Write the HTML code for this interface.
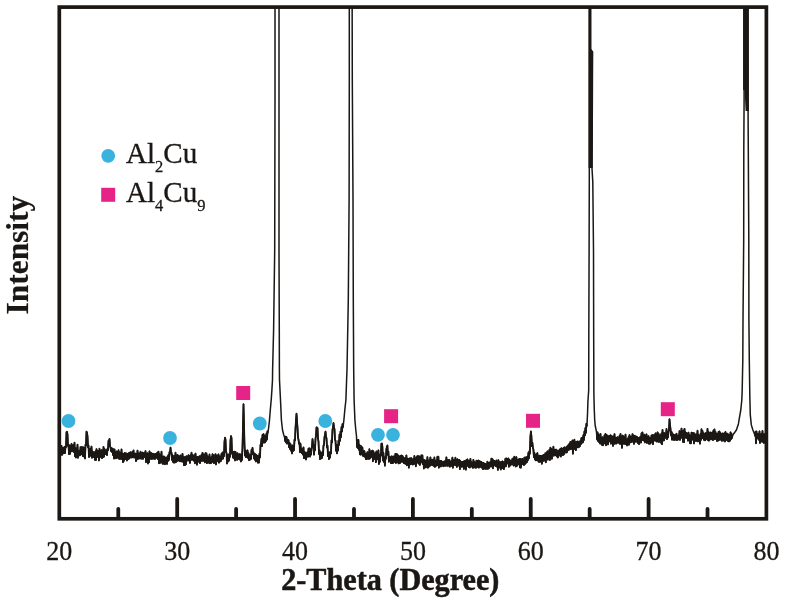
<!DOCTYPE html>
<html><head><meta charset="utf-8"><style>
html,body{margin:0;padding:0;background:#fff;}
body{width:786px;height:603px;overflow:hidden;}
svg{display:block;filter:blur(0.45px);}
text{font-family:"Liberation Serif",serif;fill:#1a1714;}
</style></head><body>
<svg width="786" height="603" viewBox="0 0 786 603">
<rect width="786" height="603" fill="#fff"/>
<defs><clipPath id="c"><rect x="59" y="7" width="708" height="512"/></clipPath></defs>
<path d="M61.00,452.72 L61.50,445.79 L62.00,454.88 L62.50,448.18 L63.00,453.51 L63.50,447.92 L64.00,453.04 L64.50,446.89 L65.00,453.07 L65.50,446.52 L66.00,447.20 L66.50,432.24 L67.00,431.80 L67.50,434.30 L68.00,446.08 L68.50,445.09 L69.00,454.17 L69.50,445.29 L70.00,453.90 L70.50,445.91 L71.00,451.06 L71.50,443.99 L72.00,451.44 L72.50,445.73 L73.00,449.87 L73.50,444.83 L74.00,452.08 L74.50,442.73 L75.00,456.24 L75.50,448.22 L76.00,457.54 L76.50,448.38 L77.00,454.74 L77.50,444.71 L78.00,457.79 L78.50,450.67 L79.00,455.24 L79.50,451.39 L80.00,455.28 L80.50,447.17 L81.00,454.19 L81.50,447.10 L82.00,454.47 L82.50,447.27 L83.00,456.19 L83.50,447.52 L84.00,456.48 L84.50,447.78 L85.00,458.43 L85.50,444.86 L86.00,445.39 L86.50,431.57 L87.00,432.72 L87.50,436.05 L88.00,447.14 L88.50,445.46 L89.00,457.07 L89.50,449.33 L90.00,454.66 L90.50,448.67 L91.00,455.93 L91.50,446.54 L92.00,457.80 L92.50,451.35 L93.00,456.97 L93.50,452.37 L94.00,457.01 L94.50,452.60 L95.00,459.90 L95.50,451.36 L96.00,460.02 L96.50,449.10 L97.00,457.17 L97.50,450.92 L98.00,456.67 L98.50,450.97 L99.00,460.39 L99.50,448.71 L100.00,457.30 L100.50,451.19 L101.00,456.58 L101.50,450.03 L102.00,458.18 L102.50,452.48 L103.00,457.22 L103.50,446.94 L104.00,456.65 L104.50,448.97 L105.00,454.05 L105.50,450.62 L106.00,454.06 L106.50,450.08 L107.00,455.08 L107.50,448.82 L108.00,450.22 L108.50,440.80 L109.00,441.16 L109.50,438.95 L110.00,446.27 L110.50,447.41 L111.00,451.01 L111.50,448.18 L112.00,452.07 L112.50,448.63 L113.00,455.06 L113.50,449.52 L114.00,458.51 L114.50,449.38 L115.00,458.23 L115.50,453.33 L116.00,458.27 L116.50,451.42 L117.00,457.82 L117.50,451.87 L118.00,457.48 L118.50,450.24 L119.00,458.64 L119.50,452.34 L120.00,459.02 L120.50,453.60 L121.00,458.71 L121.50,449.50 L122.00,459.06 L122.50,453.68 L123.00,462.21 L123.50,454.24 L124.00,460.76 L124.50,453.03 L125.00,458.64 L125.50,453.14 L126.00,459.20 L126.50,453.58 L127.00,460.51 L127.50,454.05 L128.00,459.29 L128.50,453.34 L129.00,458.58 L129.50,452.79 L130.00,457.31 L130.50,452.16 L131.00,457.69 L131.50,452.62 L132.00,456.79 L132.50,452.21 L133.00,457.45 L133.50,450.39 L134.00,457.24 L134.50,453.70 L135.00,457.60 L135.50,453.57 L136.00,461.09 L136.50,453.81 L137.00,459.38 L137.50,450.62 L138.00,458.72 L138.50,453.38 L139.00,458.56 L139.50,453.62 L140.00,457.07 L140.50,451.73 L141.00,458.56 L141.50,453.16 L142.00,458.60 L142.50,452.54 L143.00,458.83 L143.50,453.03 L144.00,456.78 L144.50,453.21 L145.00,457.15 L145.50,451.10 L146.00,462.17 L146.50,454.36 L147.00,458.95 L147.50,453.20 L148.00,463.49 L148.50,455.13 L149.00,462.25 L149.50,451.34 L150.00,457.99 L150.50,453.18 L151.00,459.03 L151.50,453.03 L152.00,458.83 L152.50,453.82 L153.00,458.51 L153.50,453.98 L154.00,458.58 L154.50,454.49 L155.00,458.99 L155.50,454.02 L156.00,457.99 L156.50,453.53 L157.00,457.31 L157.50,452.59 L158.00,459.18 L158.50,451.65 L159.00,463.28 L159.50,454.34 L160.00,463.05 L160.50,455.17 L161.00,460.67 L161.50,451.75 L162.00,462.73 L162.50,456.77 L163.00,464.03 L163.50,456.42 L164.00,462.10 L164.50,456.76 L165.00,464.27 L165.50,457.88 L166.00,462.75 L166.50,457.84 L167.00,463.99 L167.50,456.44 L168.00,461.02 L168.50,455.00 L169.00,459.93 L169.50,452.07 L170.00,453.54 L170.50,447.58 L171.00,452.94 L171.50,452.64 L172.00,459.84 L172.50,455.22 L173.00,461.85 L173.50,456.44 L174.00,462.65 L174.50,455.83 L175.00,462.47 L175.50,452.68 L176.00,462.05 L176.50,456.70 L177.00,460.89 L177.50,454.85 L178.00,460.76 L178.50,455.90 L179.00,460.19 L179.50,456.72 L180.00,461.34 L180.50,455.44 L181.00,460.49 L181.50,457.06 L182.00,461.55 L182.50,453.81 L183.00,461.49 L183.50,457.34 L184.00,465.09 L184.50,457.11 L185.00,465.12 L185.50,457.32 L186.00,464.25 L186.50,456.24 L187.00,460.54 L187.50,456.62 L188.00,460.22 L188.50,455.22 L189.00,460.79 L189.50,456.25 L190.00,462.94 L190.50,455.30 L191.00,459.85 L191.50,452.73 L192.00,459.67 L192.50,454.79 L193.00,459.79 L193.50,456.08 L194.00,460.84 L194.50,455.19 L195.00,463.23 L195.50,453.61 L196.00,461.86 L196.50,457.25 L197.00,464.71 L197.50,456.87 L198.00,461.86 L198.50,457.03 L199.00,461.18 L199.50,456.17 L200.00,463.09 L200.50,456.33 L201.00,461.12 L201.50,455.01 L202.00,459.44 L202.50,452.84 L203.00,461.06 L203.50,454.47 L204.00,459.43 L204.50,454.89 L205.00,462.37 L205.50,453.06 L206.00,460.44 L206.50,453.44 L207.00,463.18 L207.50,456.18 L208.00,462.07 L208.50,456.89 L209.00,462.84 L209.50,454.49 L210.00,463.28 L210.50,458.00 L211.00,463.13 L211.50,457.11 L212.00,462.10 L212.50,454.22 L213.00,461.49 L213.50,455.24 L214.00,463.15 L214.50,455.76 L215.00,459.89 L215.50,454.16 L216.00,464.41 L216.50,455.75 L217.00,461.39 L217.50,455.59 L218.00,461.09 L218.50,454.29 L219.00,462.67 L219.50,456.38 L220.00,461.53 L220.50,456.46 L221.00,460.94 L221.50,453.87 L222.00,459.03 L222.50,452.41 L223.00,458.63 L223.50,453.01 L224.00,456.32 L224.50,441.63 L225.00,437.64 L225.50,439.50 L226.00,452.14 L226.50,452.76 L227.00,463.51 L227.50,454.92 L228.00,461.57 L228.50,454.38 L229.00,460.57 L229.50,455.30 L230.00,456.78 L230.50,440.35 L231.00,436.06 L231.50,437.88 L232.00,453.68 L232.50,452.17 L233.00,457.62 L233.50,452.02 L234.00,458.24 L234.50,451.64 L235.00,460.45 L235.50,451.82 L236.00,457.09 L236.50,454.67 L237.00,459.89 L237.50,453.26 L238.00,458.79 L238.50,454.73 L239.00,459.00 L239.50,454.10 L240.00,459.72 L240.50,454.45 L241.00,461.53 L241.50,455.22 L242.00,459.92 L242.50,446.75 L243.00,426.36 L243.50,404.18 L244.00,424.06 L244.50,445.01 L245.00,455.56 L245.50,450.42 L246.00,457.17 L246.50,453.20 L247.00,456.75 L247.50,450.28 L248.00,457.89 L248.50,453.16 L249.00,460.20 L249.50,455.20 L250.00,459.65 L250.50,455.08 L251.00,458.93 L251.50,450.01 L252.00,452.83 L252.50,447.85 L253.00,454.25 L253.50,452.41 L254.00,458.54 L254.50,453.68 L255.00,459.92 L255.50,454.33 L256.00,461.53 L256.50,455.17 L257.00,460.26 L257.50,456.04 L258.00,462.71 L258.50,456.10 L259.00,462.58 L259.50,453.65 L260.00,457.40 L260.50,444.83 L261.00,444.65 L261.50,438.72 L262.00,446.14 L262.50,434.88 L263.00,442.42 L263.50,434.10 L264.00,442.59 L264.50,435.73 L265.00,442.46 L265.50,435.66 L266.00,441.01 L266.50,433.46 L267.00,439.52 L267.50,430.88 L267.90,433.00 L268.60,428.00 L269.50,420.00 L270.30,410.00 L271.20,400.00 L271.90,390.00 L272.50,380.00 L272.60,370.00 L273.60,330.00 L274.70,250.00 L275.00,100.00 L275.00,-20.00 L279.00,-20.00 L279.00,100.00 L279.00,250.00 L279.30,330.00 L279.40,370.00 L279.50,380.00 L280.50,400.00 L281.40,420.00 L282.50,430.00 L283.80,435.00 L284.50,437.00 L285.00,441.27 L285.50,436.59 L286.00,442.42 L286.50,437.11 L287.00,443.60 L287.50,439.65 L288.00,443.29 L288.50,440.21 L289.00,447.11 L289.50,442.94 L290.00,449.00 L290.50,444.03 L291.00,450.73 L291.50,446.64 L292.00,453.45 L292.50,445.51 L293.00,451.06 L293.50,445.83 L294.00,450.24 L294.50,439.71 L295.00,440.39 L295.50,428.12 L296.00,420.35 L296.50,413.70 L297.00,420.56 L297.50,427.70 L298.00,437.57 L298.50,439.68 L299.00,443.76 L299.50,442.63 L300.00,452.09 L300.50,443.92 L301.00,451.92 L301.50,448.37 L302.00,453.31 L302.50,451.06 L303.00,454.62 L303.50,447.44 L304.00,458.09 L304.50,451.96 L305.00,458.02 L305.50,452.66 L306.00,459.54 L306.50,453.70 L307.00,456.60 L307.50,452.03 L308.00,456.75 L308.50,448.53 L309.00,455.95 L309.50,448.31 L310.00,456.57 L310.50,450.53 L311.00,454.73 L311.50,448.74 L312.00,446.58 L312.50,439.11 L313.00,443.15 L313.50,444.95 L314.00,454.62 L314.50,448.67 L315.00,450.16 L315.50,438.72 L316.00,435.53 L316.50,427.44 L317.00,427.48 L317.50,428.04 L318.00,438.45 L318.50,441.73 L319.00,453.99 L319.50,450.23 L320.00,459.18 L320.50,452.28 L321.00,458.48 L321.50,453.58 L322.00,457.91 L322.50,451.84 L323.00,455.30 L323.50,445.42 L324.00,445.14 L324.50,437.05 L325.00,434.48 L325.50,431.56 L326.00,436.55 L326.50,438.23 L327.00,447.51 L327.50,445.61 L328.00,456.19 L328.50,452.29 L329.00,459.10 L329.50,452.61 L330.00,457.60 L330.50,451.80 L331.00,453.37 L331.50,440.25 L332.00,442.48 L332.50,429.58 L333.00,427.38 L333.50,423.02 L334.00,427.32 L334.50,429.32 L335.00,439.92 L335.50,440.53 L336.00,450.80 L336.50,445.54 L337.00,453.37 L337.50,444.74 L338.00,450.61 L338.50,440.76 L339.00,445.05 L339.50,434.71 L340.00,440.85 L340.50,431.61 L341.00,437.28 L341.50,427.06 L342.00,431.50 L342.50,424.09 L343.00,427.51 L343.90,420.00 L344.80,410.00 L345.90,400.00 L346.60,380.00 L347.00,370.00 L348.30,300.00 L349.10,200.00 L349.30,80.00 L349.30,-20.00 L352.10,-20.00 L352.30,80.00 L353.00,200.00 L353.30,300.00 L353.70,370.00 L354.10,400.00 L354.90,420.00 L355.80,430.00 L356.50,436.00 L356.90,447.27 L357.40,440.03 L357.90,448.08 L358.40,439.81 L358.90,449.70 L359.40,444.88 L359.90,454.28 L360.40,445.89 L360.90,454.69 L361.40,446.43 L361.90,453.92 L362.40,447.62 L362.90,455.82 L363.40,451.20 L363.90,456.28 L364.40,451.04 L364.90,456.84 L365.40,453.64 L365.90,459.07 L366.40,454.01 L366.90,459.10 L367.40,452.18 L367.90,458.22 L368.40,452.88 L368.90,458.99 L369.40,449.18 L369.90,458.54 L370.40,451.65 L370.90,456.78 L371.40,451.23 L371.90,456.95 L372.40,450.62 L372.90,461.26 L373.40,451.34 L373.90,459.28 L374.40,453.67 L374.90,458.76 L375.40,453.22 L375.90,462.14 L376.40,451.42 L376.90,459.53 L377.40,453.04 L377.90,458.60 L378.40,450.31 L378.90,464.06 L379.40,455.07 L379.90,461.87 L380.40,454.23 L380.90,455.75 L381.40,443.71 L381.90,443.44 L382.40,446.74 L382.90,460.39 L383.40,452.90 L383.90,462.01 L384.40,457.32 L384.90,465.71 L385.40,457.06 L385.90,458.78 L386.40,449.05 L386.90,446.85 L387.40,445.52 L387.90,455.01 L388.40,451.52 L388.90,461.68 L389.40,456.78 L389.90,460.79 L390.40,457.76 L390.90,463.11 L391.40,456.30 L391.90,462.98 L392.40,456.63 L392.90,463.14 L393.40,456.43 L393.90,461.91 L394.40,456.47 L394.90,461.80 L395.40,453.91 L395.90,463.00 L396.40,453.94 L396.90,462.31 L397.40,454.52 L397.90,462.49 L398.40,455.66 L398.90,463.46 L399.40,456.67 L399.90,463.20 L400.40,456.09 L400.90,462.09 L401.40,455.50 L401.90,460.66 L402.40,455.81 L402.90,461.91 L403.40,457.27 L403.90,463.18 L404.40,458.33 L404.90,463.48 L405.40,458.30 L405.90,463.99 L406.40,455.40 L406.90,465.26 L407.40,458.68 L407.90,464.63 L408.40,458.87 L408.90,467.63 L409.40,458.38 L409.90,464.05 L410.40,458.34 L410.90,464.34 L411.40,458.20 L411.90,463.09 L412.40,460.44 L412.90,464.54 L413.40,458.83 L413.90,464.20 L414.40,455.94 L414.90,462.90 L415.40,458.89 L415.90,466.25 L416.40,457.51 L416.90,462.86 L417.40,456.10 L417.90,462.46 L418.40,456.14 L418.90,463.64 L419.40,456.52 L419.90,464.97 L420.40,457.50 L420.90,462.72 L421.40,455.30 L421.90,460.78 L422.40,455.40 L422.90,464.15 L423.40,459.78 L423.90,468.53 L424.40,460.08 L424.90,465.15 L425.40,460.58 L425.90,467.47 L426.40,460.67 L426.90,465.64 L427.40,457.13 L427.90,467.80 L428.40,461.31 L428.90,466.73 L429.40,460.14 L429.90,465.78 L430.40,457.41 L430.90,465.24 L431.40,459.92 L431.90,464.55 L432.40,459.69 L432.90,465.30 L433.40,460.66 L433.90,466.02 L434.40,457.51 L434.90,466.92 L435.40,461.24 L435.90,466.05 L436.40,460.38 L436.90,465.20 L437.40,456.70 L437.90,465.25 L438.40,456.76 L438.90,467.66 L439.40,461.13 L439.90,465.37 L440.40,460.81 L440.90,466.52 L441.40,461.02 L441.90,465.42 L442.40,462.32 L442.90,465.82 L443.40,461.76 L443.90,466.26 L444.40,461.68 L444.90,465.00 L445.40,460.55 L445.90,465.94 L446.40,457.30 L446.90,464.66 L447.40,460.18 L447.90,466.03 L448.40,460.18 L448.90,465.34 L449.40,459.85 L449.90,466.75 L450.40,462.35 L450.90,466.03 L451.40,461.04 L451.90,465.67 L452.40,457.61 L452.90,467.78 L453.40,459.92 L453.90,465.24 L454.40,460.31 L454.90,464.77 L455.40,457.69 L455.90,465.31 L456.40,460.20 L456.90,466.97 L457.40,459.20 L457.90,464.95 L458.40,460.04 L458.90,465.64 L459.40,459.98 L459.90,469.10 L460.40,461.06 L460.90,465.93 L461.40,462.06 L461.90,466.85 L462.40,461.92 L462.90,466.04 L463.40,461.55 L463.90,468.95 L464.40,461.15 L464.90,465.28 L465.40,460.65 L465.90,469.69 L466.40,460.37 L466.90,466.30 L467.40,459.33 L467.90,464.96 L468.40,460.67 L468.90,467.06 L469.40,460.84 L469.90,467.51 L470.40,458.82 L470.90,465.41 L471.40,462.26 L471.90,466.71 L472.40,462.81 L472.90,467.82 L473.40,459.80 L473.90,467.25 L474.40,462.10 L474.90,467.32 L475.40,462.80 L475.90,467.86 L476.40,460.74 L476.90,466.85 L477.40,461.47 L477.90,466.89 L478.40,460.43 L478.90,467.58 L479.40,461.27 L479.90,466.29 L480.40,461.62 L480.90,467.04 L481.40,461.88 L481.90,467.64 L482.40,462.81 L482.90,469.11 L483.40,463.02 L483.90,468.82 L484.40,463.58 L484.90,468.25 L485.40,463.94 L485.90,468.98 L486.40,464.59 L486.90,468.47 L487.40,461.64 L487.90,468.84 L488.40,463.02 L488.90,468.29 L489.40,462.58 L489.90,465.70 L490.40,462.15 L490.90,466.64 L491.40,458.53 L491.90,465.63 L492.40,459.07 L492.90,468.32 L493.40,460.52 L493.90,465.17 L494.40,460.93 L494.90,465.52 L495.40,462.11 L495.90,466.16 L496.40,460.51 L496.90,466.68 L497.40,462.09 L497.90,469.88 L498.40,460.04 L498.90,467.92 L499.40,462.07 L499.90,465.35 L500.40,462.16 L500.90,469.50 L501.40,462.24 L501.90,466.45 L502.40,461.34 L502.90,468.10 L503.40,462.07 L503.90,469.13 L504.40,462.49 L504.90,465.26 L505.40,458.75 L505.90,466.41 L506.40,458.46 L506.90,463.38 L507.40,458.95 L507.90,463.42 L508.40,458.38 L508.90,466.74 L509.40,459.88 L509.90,465.73 L510.40,460.74 L510.90,464.49 L511.40,460.55 L511.90,464.42 L512.40,458.79 L512.90,464.56 L513.40,458.23 L513.90,465.61 L514.40,456.64 L514.90,464.80 L515.40,459.60 L515.90,466.48 L516.40,457.05 L516.90,465.94 L517.40,459.87 L517.90,463.76 L518.40,459.58 L518.90,464.52 L519.40,458.83 L519.90,467.37 L520.40,458.90 L520.90,467.68 L521.40,459.66 L521.90,464.32 L522.40,458.87 L522.90,464.11 L523.40,459.72 L523.90,465.12 L524.40,457.53 L524.90,464.18 L525.40,457.51 L525.90,463.00 L526.40,457.38 L526.90,462.28 L527.40,456.57 L527.90,460.24 L528.40,452.74 L528.90,458.37 L529.40,451.14 L529.90,453.73 L530.40,436.68 L530.90,431.50 L531.40,435.90 L531.90,446.10 L532.40,442.73 L532.90,447.97 L533.40,449.42 L533.90,457.20 L534.40,452.79 L534.90,459.43 L535.40,454.85 L535.90,460.38 L536.40,454.29 L536.90,460.01 L537.40,453.12 L537.90,460.66 L538.40,455.87 L538.90,461.85 L539.40,455.64 L539.90,461.96 L540.40,455.93 L540.90,461.39 L541.40,455.87 L541.90,463.73 L542.40,455.90 L542.90,460.66 L543.40,454.93 L543.90,460.94 L544.40,455.08 L544.90,459.21 L545.40,453.24 L545.90,462.30 L546.40,453.18 L546.90,457.75 L547.40,451.34 L547.90,459.65 L548.40,451.68 L548.90,456.33 L549.40,449.84 L549.90,460.02 L550.40,447.66 L550.90,455.01 L551.40,449.00 L551.90,458.75 L552.40,450.99 L552.90,456.06 L553.40,446.77 L553.90,454.69 L554.40,450.15 L554.90,455.52 L555.40,449.68 L555.90,455.05 L556.40,449.63 L556.90,456.46 L557.40,451.12 L557.90,457.50 L558.40,451.11 L558.90,455.78 L559.40,449.96 L559.90,454.35 L560.40,448.78 L560.90,456.56 L561.40,448.27 L561.90,454.59 L562.40,449.21 L562.90,455.14 L563.40,448.19 L563.90,454.46 L564.40,447.34 L564.90,451.77 L565.40,448.35 L565.90,452.68 L566.40,447.06 L566.90,452.32 L567.40,446.26 L567.90,450.37 L568.40,445.10 L568.90,449.81 L569.40,443.76 L569.90,448.80 L570.40,441.86 L570.90,449.20 L571.40,443.26 L571.90,447.92 L572.40,440.50 L572.90,453.69 L573.40,441.42 L573.90,448.48 L574.40,439.72 L574.90,449.04 L575.40,442.07 L575.90,450.08 L576.40,442.05 L576.90,446.87 L577.40,441.38 L577.90,447.41 L578.40,441.69 L578.90,447.10 L579.40,442.74 L579.90,446.16 L580.40,440.72 L580.90,444.13 L581.40,438.05 L581.90,442.75 L582.40,437.57 L582.90,442.41 L583.40,435.04 L583.90,440.08 L584.40,431.52 L584.90,435.47 L585.40,427.98 L585.90,432.85 L586.40,423.66 L586.90,426.17 L587.60,412.00 L587.90,402.00 L588.70,390.00 L588.80,340.00 L589.10,250.00 L589.30,180.00 L589.40,60.00 L589.50,-20.00 L590.50,-20.00 L590.50,49.00 L592.30,52.00 L591.80,165.00 L592.80,182.00 L593.50,250.00 L593.70,340.00 L593.90,395.00 L594.30,410.00 L594.70,420.00 L595.20,425.50 L596.50,432.00 L597.00,439.76 L597.50,432.37 L598.00,440.90 L598.50,434.28 L599.00,441.97 L599.50,436.20 L600.00,443.44 L600.50,433.91 L601.00,443.59 L601.50,438.75 L602.00,444.88 L602.50,437.15 L603.00,445.26 L603.50,438.68 L604.00,442.84 L604.50,435.41 L605.00,443.43 L605.50,433.92 L606.00,445.31 L606.50,435.11 L607.00,441.38 L607.50,435.61 L608.00,444.45 L608.50,436.72 L609.00,441.54 L609.50,435.81 L610.00,441.30 L610.50,435.19 L611.00,443.69 L611.50,436.15 L612.00,441.96 L612.50,436.62 L613.00,445.93 L613.50,436.52 L614.00,444.05 L614.50,434.04 L615.00,442.48 L615.50,437.72 L616.00,443.78 L616.50,437.99 L617.00,442.11 L617.50,437.14 L618.00,443.02 L618.50,438.61 L619.00,442.22 L619.50,435.97 L620.00,443.88 L620.50,433.94 L621.00,443.67 L621.50,437.97 L622.00,447.83 L622.50,435.56 L623.00,444.02 L623.50,436.31 L624.00,443.18 L624.50,438.93 L625.00,444.09 L625.50,434.58 L626.00,443.67 L626.50,439.70 L627.00,445.50 L627.50,439.03 L628.00,444.58 L628.50,437.20 L629.00,444.66 L629.50,435.03 L630.00,442.49 L630.50,436.60 L631.00,442.14 L631.50,436.70 L632.00,441.60 L632.50,434.13 L633.00,441.70 L633.50,435.41 L634.00,443.86 L634.50,436.03 L635.00,441.43 L635.50,436.20 L636.00,441.83 L636.50,436.63 L637.00,441.01 L637.50,437.29 L638.00,443.08 L638.50,438.39 L639.00,444.10 L639.50,437.69 L640.00,442.44 L640.50,436.64 L641.00,442.53 L641.50,433.28 L642.00,440.18 L642.50,432.48 L643.00,439.79 L643.50,435.63 L644.00,440.70 L644.50,434.63 L645.00,442.46 L645.50,436.90 L646.00,441.12 L646.50,434.31 L647.00,442.88 L647.50,438.62 L648.00,442.61 L648.50,436.05 L649.00,443.78 L649.50,437.82 L650.00,443.73 L650.50,438.15 L651.00,442.74 L651.50,435.39 L652.00,440.63 L652.50,435.10 L653.00,444.19 L653.50,435.14 L654.00,440.59 L654.50,435.12 L655.00,440.28 L655.50,433.31 L656.00,440.85 L656.50,434.96 L657.00,441.62 L657.50,432.28 L658.00,440.11 L658.50,433.57 L659.00,442.04 L659.50,436.13 L660.00,441.32 L660.50,434.94 L661.00,442.78 L661.50,433.52 L662.00,444.19 L662.50,429.91 L663.00,440.54 L663.50,433.13 L664.00,440.40 L664.50,433.03 L665.00,438.02 L665.50,433.97 L666.00,436.92 L666.50,429.01 L667.00,439.09 L667.50,432.17 L668.00,437.55 L668.50,431.53 L669.00,429.88 L669.50,419.24 L670.00,424.87 L670.50,428.86 L671.00,435.49 L671.50,431.91 L672.00,439.61 L672.50,433.43 L673.00,439.50 L673.50,435.00 L674.00,439.88 L674.50,434.89 L675.00,439.88 L675.50,435.05 L676.00,439.36 L676.50,433.68 L677.00,440.14 L677.50,435.93 L678.00,439.62 L678.50,435.53 L679.00,438.49 L679.50,431.05 L680.00,439.87 L680.50,432.35 L681.00,437.96 L681.50,428.62 L682.00,435.86 L682.50,432.11 L683.00,441.88 L683.50,430.73 L684.00,442.21 L684.50,428.84 L685.00,436.82 L685.50,432.37 L686.00,437.80 L686.50,433.00 L687.00,438.16 L687.50,434.48 L688.00,440.79 L688.50,432.59 L689.00,439.13 L689.50,435.06 L690.00,443.27 L690.50,435.84 L691.00,443.31 L691.50,432.53 L692.00,439.52 L692.50,432.78 L693.00,439.65 L693.50,433.22 L694.00,443.44 L694.50,433.51 L695.00,440.13 L695.50,435.06 L696.00,441.10 L696.50,434.52 L697.00,440.44 L697.50,430.74 L698.00,441.47 L698.50,435.01 L699.00,440.27 L699.50,436.31 L700.00,443.67 L700.50,434.00 L701.00,439.92 L701.50,429.19 L702.00,437.63 L702.50,430.95 L703.00,438.23 L703.50,433.28 L704.00,439.81 L704.50,434.32 L705.00,440.37 L705.50,433.08 L706.00,439.47 L706.50,433.22 L707.00,438.18 L707.50,428.78 L708.00,440.11 L708.50,432.03 L709.00,440.70 L709.50,433.10 L710.00,437.80 L710.50,432.48 L711.00,439.39 L711.50,432.84 L712.00,438.68 L712.50,432.31 L713.00,440.08 L713.50,430.47 L714.00,439.34 L714.50,429.51 L715.00,439.10 L715.50,431.99 L716.00,437.58 L716.50,433.67 L717.00,441.00 L717.50,434.06 L718.00,440.63 L718.50,432.00 L719.00,439.66 L719.50,431.50 L720.00,439.92 L720.50,433.15 L721.00,438.51 L721.50,434.32 L722.00,440.83 L722.50,433.47 L723.00,438.47 L723.50,433.68 L724.00,440.71 L724.50,433.29 L725.00,441.47 L725.50,432.00 L726.00,438.41 L726.50,433.64 L727.00,440.11 L727.50,433.75 L728.00,440.98 L728.50,434.76 L729.00,441.38 L729.50,435.23 L730.00,440.70 L730.50,432.32 L731.00,439.27 L731.50,433.76 L732.00,438.21 L732.50,436.00 L733.50,434.00 L735.00,432.00 L736.40,430.00 L738.40,423.90 L739.90,414.90 L740.80,410.00 L741.80,400.00 L742.20,390.00 L742.80,360.00 L743.00,320.00 L743.70,240.00 L743.80,150.00 L744.10,100.00 L744.20,-20.00 L748.00,-20.00 L748.00,100.00 L748.30,150.00 L748.80,240.00 L748.90,320.00 L749.30,360.00 L749.80,395.00 L750.30,414.90 L751.30,424.90 L752.80,429.80 L754.50,434.00 L755.00,436.01 L755.50,431.73 L756.00,443.27 L756.50,431.40 L757.00,438.40 L757.50,434.39 L758.00,438.39 L758.50,433.72 L759.00,439.92 L759.50,431.31 L760.00,442.98 L760.50,435.37 L761.00,441.09 L761.50,433.74 L762.00,441.70 L762.50,430.98 L763.00,441.82 L763.50,436.13 L764.00,443.06 L764.50,433.40" fill="none" stroke="#1a1714" stroke-width="1.5" stroke-linejoin="round" clip-path="url(#c)"/>
<path d="M61.00,452.72 L61.50,445.79 L62.00,454.88 L62.50,448.18 L63.00,453.51 L63.50,447.92 L64.00,453.04 L64.50,446.89 L65.00,453.07 L65.50,446.52 L66.00,447.20 L66.50,432.24 L67.00,431.80 L67.50,434.30 L68.00,446.08 L68.50,445.09 L69.00,454.17 L69.50,445.29 L70.00,453.90 L70.50,445.91 L71.00,451.06 L71.50,443.99 L72.00,451.44 L72.50,445.73 L73.00,449.87 L73.50,444.83 L74.00,452.08 L74.50,442.73 L75.00,456.24 L75.50,448.22 L76.00,457.54 L76.50,448.38 L77.00,454.74 L77.50,444.71 L78.00,457.79 L78.50,450.67 L79.00,455.24 L79.50,451.39 L80.00,455.28 L80.50,447.17 L81.00,454.19 L81.50,447.10 L82.00,454.47 L82.50,447.27 L83.00,456.19 L83.50,447.52 L84.00,456.48 L84.50,447.78 L85.00,458.43 L85.50,444.86 L86.00,445.39 L86.50,431.57 L87.00,432.72 L87.50,436.05 L88.00,447.14 L88.50,445.46 L89.00,457.07 L89.50,449.33 L90.00,454.66 L90.50,448.67 L91.00,455.93 L91.50,446.54 L92.00,457.80 L92.50,451.35 L93.00,456.97 L93.50,452.37 L94.00,457.01 L94.50,452.60 L95.00,459.90 L95.50,451.36 L96.00,460.02 L96.50,449.10 L97.00,457.17 L97.50,450.92 L98.00,456.67 L98.50,450.97 L99.00,460.39 L99.50,448.71 L100.00,457.30 L100.50,451.19 L101.00,456.58 L101.50,450.03 L102.00,458.18 L102.50,452.48 L103.00,457.22 L103.50,446.94 L104.00,456.65 L104.50,448.97 L105.00,454.05 L105.50,450.62 L106.00,454.06 L106.50,450.08 L107.00,455.08 L107.50,448.82 L108.00,450.22 L108.50,440.80 L109.00,441.16 L109.50,438.95 L110.00,446.27 L110.50,447.41 L111.00,451.01 L111.50,448.18 L112.00,452.07 L112.50,448.63 L113.00,455.06 L113.50,449.52 L114.00,458.51 L114.50,449.38 L115.00,458.23 L115.50,453.33 L116.00,458.27 L116.50,451.42 L117.00,457.82 L117.50,451.87 L118.00,457.48 L118.50,450.24 L119.00,458.64 L119.50,452.34 L120.00,459.02 L120.50,453.60 L121.00,458.71 L121.50,449.50 L122.00,459.06 L122.50,453.68 L123.00,462.21 L123.50,454.24 L124.00,460.76 L124.50,453.03 L125.00,458.64 L125.50,453.14 L126.00,459.20 L126.50,453.58 L127.00,460.51 L127.50,454.05 L128.00,459.29 L128.50,453.34 L129.00,458.58 L129.50,452.79 L130.00,457.31 L130.50,452.16 L131.00,457.69 L131.50,452.62 L132.00,456.79 L132.50,452.21 L133.00,457.45 L133.50,450.39 L134.00,457.24 L134.50,453.70 L135.00,457.60 L135.50,453.57 L136.00,461.09 L136.50,453.81 L137.00,459.38 L137.50,450.62 L138.00,458.72 L138.50,453.38 L139.00,458.56 L139.50,453.62 L140.00,457.07 L140.50,451.73 L141.00,458.56 L141.50,453.16 L142.00,458.60 L142.50,452.54 L143.00,458.83 L143.50,453.03 L144.00,456.78 L144.50,453.21 L145.00,457.15 L145.50,451.10 L146.00,462.17 L146.50,454.36 L147.00,458.95 L147.50,453.20 L148.00,463.49 L148.50,455.13 L149.00,462.25 L149.50,451.34 L150.00,457.99 L150.50,453.18 L151.00,459.03 L151.50,453.03 L152.00,458.83 L152.50,453.82 L153.00,458.51 L153.50,453.98 L154.00,458.58 L154.50,454.49 L155.00,458.99 L155.50,454.02 L156.00,457.99 L156.50,453.53 L157.00,457.31 L157.50,452.59 L158.00,459.18 L158.50,451.65 L159.00,463.28 L159.50,454.34 L160.00,463.05 L160.50,455.17 L161.00,460.67 L161.50,451.75 L162.00,462.73 L162.50,456.77 L163.00,464.03 L163.50,456.42 L164.00,462.10 L164.50,456.76 L165.00,464.27 L165.50,457.88 L166.00,462.75 L166.50,457.84 L167.00,463.99 L167.50,456.44 L168.00,461.02 L168.50,455.00 L169.00,459.93 L169.50,452.07 L170.00,453.54 L170.50,447.58 L171.00,452.94 L171.50,452.64 L172.00,459.84 L172.50,455.22 L173.00,461.85 L173.50,456.44 L174.00,462.65 L174.50,455.83 L175.00,462.47 L175.50,452.68 L176.00,462.05 L176.50,456.70 L177.00,460.89 L177.50,454.85 L178.00,460.76 L178.50,455.90 L179.00,460.19 L179.50,456.72 L180.00,461.34 L180.50,455.44 L181.00,460.49 L181.50,457.06 L182.00,461.55 L182.50,453.81 L183.00,461.49 L183.50,457.34 L184.00,465.09 L184.50,457.11 L185.00,465.12 L185.50,457.32 L186.00,464.25 L186.50,456.24 L187.00,460.54 L187.50,456.62 L188.00,460.22 L188.50,455.22 L189.00,460.79 L189.50,456.25 L190.00,462.94 L190.50,455.30 L191.00,459.85 L191.50,452.73 L192.00,459.67 L192.50,454.79 L193.00,459.79 L193.50,456.08 L194.00,460.84 L194.50,455.19 L195.00,463.23 L195.50,453.61 L196.00,461.86 L196.50,457.25 L197.00,464.71 L197.50,456.87 L198.00,461.86 L198.50,457.03 L199.00,461.18 L199.50,456.17 L200.00,463.09 L200.50,456.33 L201.00,461.12 L201.50,455.01 L202.00,459.44 L202.50,452.84 L203.00,461.06 L203.50,454.47 L204.00,459.43 L204.50,454.89 L205.00,462.37 L205.50,453.06 L206.00,460.44 L206.50,453.44 L207.00,463.18 L207.50,456.18 L208.00,462.07 L208.50,456.89 L209.00,462.84 L209.50,454.49 L210.00,463.28 L210.50,458.00 L211.00,463.13 L211.50,457.11 L212.00,462.10 L212.50,454.22 L213.00,461.49 L213.50,455.24 L214.00,463.15 L214.50,455.76 L215.00,459.89 L215.50,454.16 L216.00,464.41 L216.50,455.75 L217.00,461.39 L217.50,455.59 L218.00,461.09 L218.50,454.29 L219.00,462.67 L219.50,456.38 L220.00,461.53 L220.50,456.46 L221.00,460.94 L221.50,453.87 L222.00,459.03 L222.50,452.41 L223.00,458.63 L223.50,453.01 L224.00,456.32 L224.50,441.63 L225.00,437.64 L225.50,439.50 L226.00,452.14 L226.50,452.76 L227.00,463.51 L227.50,454.92 L228.00,461.57 L228.50,454.38 L229.00,460.57 L229.50,455.30 L230.00,456.78 L230.50,440.35 L231.00,436.06 L231.50,437.88 L232.00,453.68 L232.50,452.17 L233.00,457.62 L233.50,452.02 L234.00,458.24 L234.50,451.64 L235.00,460.45 L235.50,451.82 L236.00,457.09 L236.50,454.67 L237.00,459.89 L237.50,453.26 L238.00,458.79 L238.50,454.73 L239.00,459.00 L239.50,454.10 L240.00,459.72 L240.50,454.45 L241.00,461.53 L241.50,455.22 L242.00,459.92 L242.50,446.75 L243.00,426.36 L243.50,404.18 L244.00,424.06 L244.50,445.01 L245.00,455.56 L245.50,450.42 L246.00,457.17 L246.50,453.20 L247.00,456.75 L247.50,450.28 L248.00,457.89 L248.50,453.16 L249.00,460.20 L249.50,455.20 L250.00,459.65 L250.50,455.08 L251.00,458.93 L251.50,450.01 L252.00,452.83 L252.50,447.85 L253.00,454.25 L253.50,452.41 L254.00,458.54 L254.50,453.68 L255.00,459.92 L255.50,454.33 L256.00,461.53 L256.50,455.17 L257.00,460.26 L257.50,456.04 L258.00,462.71 L258.50,456.10 L259.00,462.58 L259.50,453.65 L260.00,457.40 L260.50,444.83 L261.00,444.65 L261.50,438.72 L262.00,446.14 L262.50,434.88 L263.00,442.42 L263.50,434.10 L264.00,442.59 L264.50,435.73 L265.00,442.46 L265.50,435.66 L266.00,441.01 L266.50,433.46 L267.00,439.52 L267.50,430.88 M285.00,441.27 L285.50,436.59 L286.00,442.42 L286.50,437.11 L287.00,443.60 L287.50,439.65 L288.00,443.29 L288.50,440.21 L289.00,447.11 L289.50,442.94 L290.00,449.00 L290.50,444.03 L291.00,450.73 L291.50,446.64 L292.00,453.45 L292.50,445.51 L293.00,451.06 L293.50,445.83 L294.00,450.24 L294.50,439.71 L295.00,440.39 L295.50,428.12 L296.00,420.35 L296.50,413.70 L297.00,420.56 L297.50,427.70 L298.00,437.57 L298.50,439.68 L299.00,443.76 L299.50,442.63 L300.00,452.09 L300.50,443.92 L301.00,451.92 L301.50,448.37 L302.00,453.31 L302.50,451.06 L303.00,454.62 L303.50,447.44 L304.00,458.09 L304.50,451.96 L305.00,458.02 L305.50,452.66 L306.00,459.54 L306.50,453.70 L307.00,456.60 L307.50,452.03 L308.00,456.75 L308.50,448.53 L309.00,455.95 L309.50,448.31 L310.00,456.57 L310.50,450.53 L311.00,454.73 L311.50,448.74 L312.00,446.58 L312.50,439.11 L313.00,443.15 L313.50,444.95 L314.00,454.62 L314.50,448.67 L315.00,450.16 L315.50,438.72 L316.00,435.53 L316.50,427.44 L317.00,427.48 L317.50,428.04 L318.00,438.45 L318.50,441.73 L319.00,453.99 L319.50,450.23 L320.00,459.18 L320.50,452.28 L321.00,458.48 L321.50,453.58 L322.00,457.91 L322.50,451.84 L323.00,455.30 L323.50,445.42 L324.00,445.14 L324.50,437.05 L325.00,434.48 L325.50,431.56 L326.00,436.55 L326.50,438.23 L327.00,447.51 L327.50,445.61 L328.00,456.19 L328.50,452.29 L329.00,459.10 L329.50,452.61 L330.00,457.60 L330.50,451.80 L331.00,453.37 L331.50,440.25 L332.00,442.48 L332.50,429.58 L333.00,427.38 L333.50,423.02 L334.00,427.32 L334.50,429.32 L335.00,439.92 L335.50,440.53 L336.00,450.80 L336.50,445.54 L337.00,453.37 L337.50,444.74 L338.00,450.61 L338.50,440.76 L339.00,445.05 L339.50,434.71 L340.00,440.85 L340.50,431.61 L341.00,437.28 L341.50,427.06 L342.00,431.50 L342.50,424.09 L343.00,427.51 M356.90,447.27 L357.40,440.03 L357.90,448.08 L358.40,439.81 L358.90,449.70 L359.40,444.88 L359.90,454.28 L360.40,445.89 L360.90,454.69 L361.40,446.43 L361.90,453.92 L362.40,447.62 L362.90,455.82 L363.40,451.20 L363.90,456.28 L364.40,451.04 L364.90,456.84 L365.40,453.64 L365.90,459.07 L366.40,454.01 L366.90,459.10 L367.40,452.18 L367.90,458.22 L368.40,452.88 L368.90,458.99 L369.40,449.18 L369.90,458.54 L370.40,451.65 L370.90,456.78 L371.40,451.23 L371.90,456.95 L372.40,450.62 L372.90,461.26 L373.40,451.34 L373.90,459.28 L374.40,453.67 L374.90,458.76 L375.40,453.22 L375.90,462.14 L376.40,451.42 L376.90,459.53 L377.40,453.04 L377.90,458.60 L378.40,450.31 L378.90,464.06 L379.40,455.07 L379.90,461.87 L380.40,454.23 L380.90,455.75 L381.40,443.71 L381.90,443.44 L382.40,446.74 L382.90,460.39 L383.40,452.90 L383.90,462.01 L384.40,457.32 L384.90,465.71 L385.40,457.06 L385.90,458.78 L386.40,449.05 L386.90,446.85 L387.40,445.52 L387.90,455.01 L388.40,451.52 L388.90,461.68 L389.40,456.78 L389.90,460.79 L390.40,457.76 L390.90,463.11 L391.40,456.30 L391.90,462.98 L392.40,456.63 L392.90,463.14 L393.40,456.43 L393.90,461.91 L394.40,456.47 L394.90,461.80 L395.40,453.91 L395.90,463.00 L396.40,453.94 L396.90,462.31 L397.40,454.52 L397.90,462.49 L398.40,455.66 L398.90,463.46 L399.40,456.67 L399.90,463.20 L400.40,456.09 L400.90,462.09 L401.40,455.50 L401.90,460.66 L402.40,455.81 L402.90,461.91 L403.40,457.27 L403.90,463.18 L404.40,458.33 L404.90,463.48 L405.40,458.30 L405.90,463.99 L406.40,455.40 L406.90,465.26 L407.40,458.68 L407.90,464.63 L408.40,458.87 L408.90,467.63 L409.40,458.38 L409.90,464.05 L410.40,458.34 L410.90,464.34 L411.40,458.20 L411.90,463.09 L412.40,460.44 L412.90,464.54 L413.40,458.83 L413.90,464.20 L414.40,455.94 L414.90,462.90 L415.40,458.89 L415.90,466.25 L416.40,457.51 L416.90,462.86 L417.40,456.10 L417.90,462.46 L418.40,456.14 L418.90,463.64 L419.40,456.52 L419.90,464.97 L420.40,457.50 L420.90,462.72 L421.40,455.30 L421.90,460.78 L422.40,455.40 L422.90,464.15 L423.40,459.78 L423.90,468.53 L424.40,460.08 L424.90,465.15 L425.40,460.58 L425.90,467.47 L426.40,460.67 L426.90,465.64 L427.40,457.13 L427.90,467.80 L428.40,461.31 L428.90,466.73 L429.40,460.14 L429.90,465.78 L430.40,457.41 L430.90,465.24 L431.40,459.92 L431.90,464.55 L432.40,459.69 L432.90,465.30 L433.40,460.66 L433.90,466.02 L434.40,457.51 L434.90,466.92 L435.40,461.24 L435.90,466.05 L436.40,460.38 L436.90,465.20 L437.40,456.70 L437.90,465.25 L438.40,456.76 L438.90,467.66 L439.40,461.13 L439.90,465.37 L440.40,460.81 L440.90,466.52 L441.40,461.02 L441.90,465.42 L442.40,462.32 L442.90,465.82 L443.40,461.76 L443.90,466.26 L444.40,461.68 L444.90,465.00 L445.40,460.55 L445.90,465.94 L446.40,457.30 L446.90,464.66 L447.40,460.18 L447.90,466.03 L448.40,460.18 L448.90,465.34 L449.40,459.85 L449.90,466.75 L450.40,462.35 L450.90,466.03 L451.40,461.04 L451.90,465.67 L452.40,457.61 L452.90,467.78 L453.40,459.92 L453.90,465.24 L454.40,460.31 L454.90,464.77 L455.40,457.69 L455.90,465.31 L456.40,460.20 L456.90,466.97 L457.40,459.20 L457.90,464.95 L458.40,460.04 L458.90,465.64 L459.40,459.98 L459.90,469.10 L460.40,461.06 L460.90,465.93 L461.40,462.06 L461.90,466.85 L462.40,461.92 L462.90,466.04 L463.40,461.55 L463.90,468.95 L464.40,461.15 L464.90,465.28 L465.40,460.65 L465.90,469.69 L466.40,460.37 L466.90,466.30 L467.40,459.33 L467.90,464.96 L468.40,460.67 L468.90,467.06 L469.40,460.84 L469.90,467.51 L470.40,458.82 L470.90,465.41 L471.40,462.26 L471.90,466.71 L472.40,462.81 L472.90,467.82 L473.40,459.80 L473.90,467.25 L474.40,462.10 L474.90,467.32 L475.40,462.80 L475.90,467.86 L476.40,460.74 L476.90,466.85 L477.40,461.47 L477.90,466.89 L478.40,460.43 L478.90,467.58 L479.40,461.27 L479.90,466.29 L480.40,461.62 L480.90,467.04 L481.40,461.88 L481.90,467.64 L482.40,462.81 L482.90,469.11 L483.40,463.02 L483.90,468.82 L484.40,463.58 L484.90,468.25 L485.40,463.94 L485.90,468.98 L486.40,464.59 L486.90,468.47 L487.40,461.64 L487.90,468.84 L488.40,463.02 L488.90,468.29 L489.40,462.58 L489.90,465.70 L490.40,462.15 L490.90,466.64 L491.40,458.53 L491.90,465.63 L492.40,459.07 L492.90,468.32 L493.40,460.52 L493.90,465.17 L494.40,460.93 L494.90,465.52 L495.40,462.11 L495.90,466.16 L496.40,460.51 L496.90,466.68 L497.40,462.09 L497.90,469.88 L498.40,460.04 L498.90,467.92 L499.40,462.07 L499.90,465.35 L500.40,462.16 L500.90,469.50 L501.40,462.24 L501.90,466.45 L502.40,461.34 L502.90,468.10 L503.40,462.07 L503.90,469.13 L504.40,462.49 L504.90,465.26 L505.40,458.75 L505.90,466.41 L506.40,458.46 L506.90,463.38 L507.40,458.95 L507.90,463.42 L508.40,458.38 L508.90,466.74 L509.40,459.88 L509.90,465.73 L510.40,460.74 L510.90,464.49 L511.40,460.55 L511.90,464.42 L512.40,458.79 L512.90,464.56 L513.40,458.23 L513.90,465.61 L514.40,456.64 L514.90,464.80 L515.40,459.60 L515.90,466.48 L516.40,457.05 L516.90,465.94 L517.40,459.87 L517.90,463.76 L518.40,459.58 L518.90,464.52 L519.40,458.83 L519.90,467.37 L520.40,458.90 L520.90,467.68 L521.40,459.66 L521.90,464.32 L522.40,458.87 L522.90,464.11 L523.40,459.72 L523.90,465.12 L524.40,457.53 L524.90,464.18 L525.40,457.51 L525.90,463.00 L526.40,457.38 L526.90,462.28 L527.40,456.57 L527.90,460.24 L528.40,452.74 L528.90,458.37 L529.40,451.14 L529.90,453.73 L530.40,436.68 L530.90,431.50 L531.40,435.90 L531.90,446.10 L532.40,442.73 L532.90,447.97 L533.40,449.42 L533.90,457.20 L534.40,452.79 L534.90,459.43 L535.40,454.85 L535.90,460.38 L536.40,454.29 L536.90,460.01 L537.40,453.12 L537.90,460.66 L538.40,455.87 L538.90,461.85 L539.40,455.64 L539.90,461.96 L540.40,455.93 L540.90,461.39 L541.40,455.87 L541.90,463.73 L542.40,455.90 L542.90,460.66 L543.40,454.93 L543.90,460.94 L544.40,455.08 L544.90,459.21 L545.40,453.24 L545.90,462.30 L546.40,453.18 L546.90,457.75 L547.40,451.34 L547.90,459.65 L548.40,451.68 L548.90,456.33 L549.40,449.84 L549.90,460.02 L550.40,447.66 L550.90,455.01 L551.40,449.00 L551.90,458.75 L552.40,450.99 L552.90,456.06 L553.40,446.77 L553.90,454.69 L554.40,450.15 L554.90,455.52 L555.40,449.68 L555.90,455.05 L556.40,449.63 L556.90,456.46 L557.40,451.12 L557.90,457.50 L558.40,451.11 L558.90,455.78 L559.40,449.96 L559.90,454.35 L560.40,448.78 L560.90,456.56 L561.40,448.27 L561.90,454.59 L562.40,449.21 L562.90,455.14 L563.40,448.19 L563.90,454.46 L564.40,447.34 L564.90,451.77 L565.40,448.35 L565.90,452.68 L566.40,447.06 L566.90,452.32 L567.40,446.26 L567.90,450.37 L568.40,445.10 L568.90,449.81 L569.40,443.76 L569.90,448.80 L570.40,441.86 L570.90,449.20 L571.40,443.26 L571.90,447.92 L572.40,440.50 L572.90,453.69 L573.40,441.42 L573.90,448.48 L574.40,439.72 L574.90,449.04 L575.40,442.07 L575.90,450.08 L576.40,442.05 L576.90,446.87 L577.40,441.38 L577.90,447.41 L578.40,441.69 L578.90,447.10 L579.40,442.74 L579.90,446.16 L580.40,440.72 L580.90,444.13 L581.40,438.05 L581.90,442.75 L582.40,437.57 L582.90,442.41 L583.40,435.04 L583.90,440.08 L584.40,431.52 L584.90,435.47 L585.40,427.98 L585.90,432.85 L586.40,423.66 L586.90,426.17 M597.00,439.76 L597.50,432.37 L598.00,440.90 L598.50,434.28 L599.00,441.97 L599.50,436.20 L600.00,443.44 L600.50,433.91 L601.00,443.59 L601.50,438.75 L602.00,444.88 L602.50,437.15 L603.00,445.26 L603.50,438.68 L604.00,442.84 L604.50,435.41 L605.00,443.43 L605.50,433.92 L606.00,445.31 L606.50,435.11 L607.00,441.38 L607.50,435.61 L608.00,444.45 L608.50,436.72 L609.00,441.54 L609.50,435.81 L610.00,441.30 L610.50,435.19 L611.00,443.69 L611.50,436.15 L612.00,441.96 L612.50,436.62 L613.00,445.93 L613.50,436.52 L614.00,444.05 L614.50,434.04 L615.00,442.48 L615.50,437.72 L616.00,443.78 L616.50,437.99 L617.00,442.11 L617.50,437.14 L618.00,443.02 L618.50,438.61 L619.00,442.22 L619.50,435.97 L620.00,443.88 L620.50,433.94 L621.00,443.67 L621.50,437.97 L622.00,447.83 L622.50,435.56 L623.00,444.02 L623.50,436.31 L624.00,443.18 L624.50,438.93 L625.00,444.09 L625.50,434.58 L626.00,443.67 L626.50,439.70 L627.00,445.50 L627.50,439.03 L628.00,444.58 L628.50,437.20 L629.00,444.66 L629.50,435.03 L630.00,442.49 L630.50,436.60 L631.00,442.14 L631.50,436.70 L632.00,441.60 L632.50,434.13 L633.00,441.70 L633.50,435.41 L634.00,443.86 L634.50,436.03 L635.00,441.43 L635.50,436.20 L636.00,441.83 L636.50,436.63 L637.00,441.01 L637.50,437.29 L638.00,443.08 L638.50,438.39 L639.00,444.10 L639.50,437.69 L640.00,442.44 L640.50,436.64 L641.00,442.53 L641.50,433.28 L642.00,440.18 L642.50,432.48 L643.00,439.79 L643.50,435.63 L644.00,440.70 L644.50,434.63 L645.00,442.46 L645.50,436.90 L646.00,441.12 L646.50,434.31 L647.00,442.88 L647.50,438.62 L648.00,442.61 L648.50,436.05 L649.00,443.78 L649.50,437.82 L650.00,443.73 L650.50,438.15 L651.00,442.74 L651.50,435.39 L652.00,440.63 L652.50,435.10 L653.00,444.19 L653.50,435.14 L654.00,440.59 L654.50,435.12 L655.00,440.28 L655.50,433.31 L656.00,440.85 L656.50,434.96 L657.00,441.62 L657.50,432.28 L658.00,440.11 L658.50,433.57 L659.00,442.04 L659.50,436.13 L660.00,441.32 L660.50,434.94 L661.00,442.78 L661.50,433.52 L662.00,444.19 L662.50,429.91 L663.00,440.54 L663.50,433.13 L664.00,440.40 L664.50,433.03 L665.00,438.02 L665.50,433.97 L666.00,436.92 L666.50,429.01 L667.00,439.09 L667.50,432.17 L668.00,437.55 L668.50,431.53 L669.00,429.88 L669.50,419.24 L670.00,424.87 L670.50,428.86 L671.00,435.49 L671.50,431.91 L672.00,439.61 L672.50,433.43 L673.00,439.50 L673.50,435.00 L674.00,439.88 L674.50,434.89 L675.00,439.88 L675.50,435.05 L676.00,439.36 L676.50,433.68 L677.00,440.14 L677.50,435.93 L678.00,439.62 L678.50,435.53 L679.00,438.49 L679.50,431.05 L680.00,439.87 L680.50,432.35 L681.00,437.96 L681.50,428.62 L682.00,435.86 L682.50,432.11 L683.00,441.88 L683.50,430.73 L684.00,442.21 L684.50,428.84 L685.00,436.82 L685.50,432.37 L686.00,437.80 L686.50,433.00 L687.00,438.16 L687.50,434.48 L688.00,440.79 L688.50,432.59 L689.00,439.13 L689.50,435.06 L690.00,443.27 L690.50,435.84 L691.00,443.31 L691.50,432.53 L692.00,439.52 L692.50,432.78 L693.00,439.65 L693.50,433.22 L694.00,443.44 L694.50,433.51 L695.00,440.13 L695.50,435.06 L696.00,441.10 L696.50,434.52 L697.00,440.44 L697.50,430.74 L698.00,441.47 L698.50,435.01 L699.00,440.27 L699.50,436.31 L700.00,443.67 L700.50,434.00 L701.00,439.92 L701.50,429.19 L702.00,437.63 L702.50,430.95 L703.00,438.23 L703.50,433.28 L704.00,439.81 L704.50,434.32 L705.00,440.37 L705.50,433.08 L706.00,439.47 L706.50,433.22 L707.00,438.18 L707.50,428.78 L708.00,440.11 L708.50,432.03 L709.00,440.70 L709.50,433.10 L710.00,437.80 L710.50,432.48 L711.00,439.39 L711.50,432.84 L712.00,438.68 L712.50,432.31 L713.00,440.08 L713.50,430.47 L714.00,439.34 L714.50,429.51 L715.00,439.10 L715.50,431.99 L716.00,437.58 L716.50,433.67 L717.00,441.00 L717.50,434.06 L718.00,440.63 L718.50,432.00 L719.00,439.66 L719.50,431.50 L720.00,439.92 L720.50,433.15 L721.00,438.51 L721.50,434.32 L722.00,440.83 L722.50,433.47 L723.00,438.47 L723.50,433.68 L724.00,440.71 L724.50,433.29 L725.00,441.47 L725.50,432.00 L726.00,438.41 L726.50,433.64 L727.00,440.11 L727.50,433.75 L728.00,440.98 L728.50,434.76 L729.00,441.38 L729.50,435.23 L730.00,440.70 L730.50,432.32 L731.00,439.27 L731.50,433.76 L732.00,438.21 M755.00,436.01 L755.50,431.73 L756.00,443.27 L756.50,431.40 L757.00,438.40 L757.50,434.39 L758.00,438.39 L758.50,433.72 L759.00,439.92 L759.50,431.31 L760.00,442.98 L760.50,435.37 L761.00,441.09 L761.50,433.74 L762.00,441.70 L762.50,430.98 L763.00,441.82 L763.50,436.13 L764.00,443.06 L764.50,433.40" fill="none" stroke="#1a1714" stroke-width="1.8" stroke-linejoin="round" clip-path="url(#c)"/>
<path d="M588.5,7 L591.3,7 L591.3,50 L593.3,51.5 L592.8,168 L588.6,168 Z M743.1,7 L748.7,7 L748.9,111 L745.6,111 L744.6,90 L743.1,90 Z" fill="#1a1714"/>
<g stroke="#1a1714" stroke-width="3.8" stroke-linecap="round"><line x1="118.28" y1="509" x2="118.28" y2="518" /><line x1="177.20" y1="499" x2="177.20" y2="518" /><line x1="236.12" y1="509" x2="236.12" y2="518" /><line x1="295.05" y1="499" x2="295.05" y2="518" /><line x1="353.98" y1="509" x2="353.98" y2="518" /><line x1="412.90" y1="499" x2="412.90" y2="518" /><line x1="471.83" y1="509" x2="471.83" y2="518" /><line x1="530.75" y1="499" x2="530.75" y2="518" /><line x1="589.68" y1="509" x2="589.68" y2="518" /><line x1="648.60" y1="499" x2="648.60" y2="518" /><line x1="707.52" y1="509" x2="707.52" y2="518" /></g>
<rect x="59.3" y="7.1" width="707.1" height="511.7" fill="none" stroke="#1a1714" stroke-width="3.7"/>
<circle cx="68.5" cy="421" r="6.9" fill="#3ab2de"/><circle cx="170" cy="438" r="6.9" fill="#3ab2de"/><circle cx="259.8" cy="423.5" r="6.9" fill="#3ab2de"/><circle cx="325.3" cy="421" r="6.9" fill="#3ab2de"/><circle cx="378" cy="434.8" r="6.9" fill="#3ab2de"/><circle cx="393" cy="434.8" r="6.9" fill="#3ab2de"/><rect x="236.2" y="386" width="14" height="14" fill="#e62386"/><rect x="384.1" y="409.2" width="14" height="14" fill="#e62386"/><rect x="526" y="413.8" width="14" height="14" fill="#e62386"/><rect x="660.8" y="402.2" width="14" height="14" fill="#e62386"/>
<g font-size="26" text-anchor="middle" stroke="#1a1714" stroke-width="0.3"><text transform="translate(59.35,560) scale(1,1.04)">20</text><text transform="translate(177.20,560) scale(1,1.04)">30</text><text transform="translate(295.05,560) scale(1,1.04)">40</text><text transform="translate(412.90,560) scale(1,1.04)">50</text><text transform="translate(530.75,560) scale(1,1.04)">60</text><text transform="translate(648.60,560) scale(1,1.04)">70</text><text transform="translate(766.45,560) scale(1,1.04)">80</text></g>
<text transform="translate(390.3,589.8) scale(1,1.05)" font-size="30.2" font-weight="bold" text-anchor="middle" stroke="#1a1714" stroke-width="0.5">2-Theta (Degree)</text>
<text transform="translate(28.4,255.1) rotate(-90)" font-size="31.4" font-weight="bold" text-anchor="middle" stroke="#1a1714" stroke-width="0.2">Intensity</text>
<circle cx="108.2" cy="155.8" r="6.9" fill="#3ab2de"/>
<rect x="101.2" y="187.8" width="14" height="14" fill="#e62386"/>
<text transform="translate(126,162.7) scale(1,1.02)" font-size="29.1" stroke="#1a1714" stroke-width="0.3">Al<tspan font-size="16.5" dy="8.9">2</tspan><tspan dy="-8.9">Cu</tspan></text>
<text transform="translate(126,201.5) scale(1,1.02)" font-size="29.1" stroke="#1a1714" stroke-width="0.3">Al<tspan font-size="16.5" dy="8.9">4</tspan><tspan dy="-8.9">Cu</tspan><tspan font-size="16.5" dy="8.9">9</tspan></text>
</svg>
</body></html>
